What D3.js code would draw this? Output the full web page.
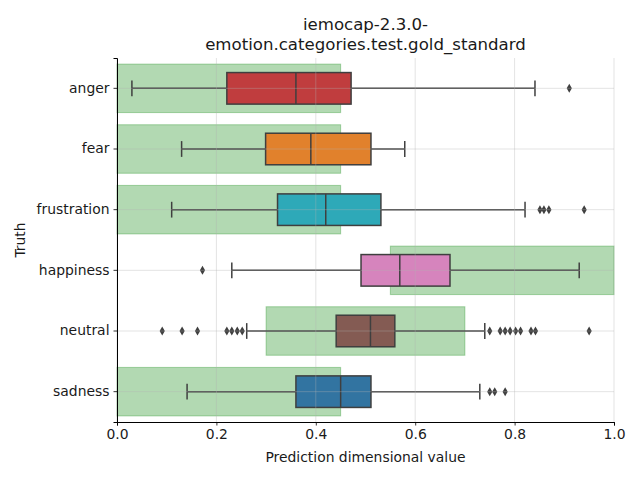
<!DOCTYPE html>
<html>
<head>
<meta charset="UTF-8">
<style>
	body { margin: 0; background: white; font-family: "DejaVu Sans", sans-serif; }
</style>
</head>
<body>
<div id="chart"></div>
<script src="https://d3js.org/d3.v7.min.js"></script>
<script>

	// Data
	let categories = ["anger", "fear", "frustration", "happiness", "neutral", "sadness"];
	let colors = ["#c03d3e", "#e1812c", "#2ea9b8", "#d684bd", "#845b53", "#3274a1"];

	// [whisker low, q1, median, q3, whisker high]
	let stats = [
		[0.030, 0.221, 0.360, 0.471, 0.841],
		[0.130, 0.299, 0.390, 0.511, 0.579],
		[0.110, 0.323, 0.420, 0.531, 0.821],
		[0.231, 0.491, 0.569, 0.670, 0.930],
		[0.261, 0.441, 0.510, 0.559, 0.740],
		[0.141, 0.360, 0.450, 0.511, 0.730]
	];

	let outliers = [
		[0.910],
		[],
		[0.851, 0.859, 0.869, 0.940],
		[0.172],
		[0.091, 0.131, 0.162, 0.221, 0.231, 0.242, 0.252,
		 0.750, 0.771, 0.781, 0.791, 0.802, 0.812, 0.833, 0.842, 0.950],
		[0.750, 0.760, 0.781]
	];

	// gold standard ranges shown as green bands
	let goldRanges = [
		[0, 0.45], [0, 0.45], [0, 0.45], [0.55, 1.0], [0.3, 0.7], [0, 0.45]
	];

	let xTicks = [0, 0.2, 0.4, 0.6, 0.8, 1.0];

	let width = 640, height = 480;
	let margin = {top: 58, right: 26, bottom: 58, left: 117};
	let textColor = "#1a1a1a";

	let svg = d3.select("#chart").append("svg")
		.attr("width", width)
		.attr("height", height);

	let x = d3.scaleLinear().domain([0, 1]).range([margin.left, width - margin.right]);
	let y = d3.scaleBand().domain(categories).range([margin.top, height - margin.bottom]);
	let bw = y.bandwidth();
	let lineColor = "#3f3f3f";

	// green bands
	svg.append("g").selectAll("rect")
		.data(goldRanges)
		.enter()
		.append("rect")
		.attr("x", d => x(d[0]))
		.attr("width", d => x(d[1]) - x(d[0]))
		.attr("y", (d, i) => y(categories[i]) + bw * 0.1)
		.attr("height", bw * 0.8)
		.attr("fill", "green")
		.attr("fill-opacity", 0.3)
		.attr("stroke", "green")
		.attr("stroke-opacity", 0.3)
		.attr("stroke-width", 1);

	// boxes
	let boxH = bw * 0.52;
	let capH = bw * 0.26;
	let boxes = svg.append("g").selectAll("g")
		.data(stats)
		.enter()
		.append("g")
		.attr("transform", (d, i) => "translate(0," + (y(categories[i]) + bw / 2) + ")");

	boxes.append("line")
		.attr("x1", d => x(d[0])).attr("x2", d => x(d[1]))
		.attr("stroke", lineColor).attr("stroke-width", 1.5);
	boxes.append("line")
		.attr("x1", d => x(d[3])).attr("x2", d => x(d[4]))
		.attr("stroke", lineColor).attr("stroke-width", 1.5);
	boxes.append("line")
		.attr("x1", d => x(d[0])).attr("x2", d => x(d[0]))
		.attr("y1", -capH / 2).attr("y2", capH / 2)
		.attr("stroke", lineColor).attr("stroke-width", 1.5);
	boxes.append("line")
		.attr("x1", d => x(d[4])).attr("x2", d => x(d[4]))
		.attr("y1", -capH / 2).attr("y2", capH / 2)
		.attr("stroke", lineColor).attr("stroke-width", 1.5);
	boxes.append("rect")
		.attr("x", d => x(d[1]))
		.attr("width", d => x(d[3]) - x(d[1]))
		.attr("y", -boxH / 2)
		.attr("height", boxH)
		.attr("fill", (d, i) => colors[i])
		.attr("stroke", lineColor).attr("stroke-width", 1.5);
	boxes.append("line")
		.attr("x1", d => x(d[2])).attr("x2", d => x(d[2]))
		.attr("y1", -boxH / 2).attr("y2", boxH / 2)
		.attr("stroke", lineColor).attr("stroke-width", 1.5);

	// outliers (diamonds)
	let diamond = "M0,-4.5L2.6,0L0,4.5L-2.6,0Z";
	outliers.forEach((arr, i) => {
		svg.append("g").selectAll("path")
			.data(arr)
			.enter()
			.append("path")
			.attr("d", diamond)
			.attr("transform", d => "translate(" + x(d) + "," + (y(categories[i]) + bw / 2) + ")")
			.attr("fill", lineColor);
	});

	// grid on top
	let grid = svg.append("g")
		.attr("stroke", "#b0b0b0")
		.attr("stroke-opacity", 0.45)
		.attr("stroke-width", 0.8);
	grid.selectAll("line.vx")
		.data(xTicks)
		.enter()
		.append("line")
		.attr("x1", d => x(d)).attr("x2", d => x(d))
		.attr("y1", margin.top).attr("y2", height - margin.bottom);
	grid.selectAll("line.hy")
		.data(categories)
		.enter()
		.append("line")
		.attr("x1", margin.left).attr("x2", width - margin.right)
		.attr("y1", d => y(d) + bw / 2).attr("y2", d => y(d) + bw / 2);

	// axes
	let xAxis = svg.append("g")
		.attr("transform", "translate(0," + (height - margin.bottom) + ")")
		.call(d3.axisBottom(x).tickValues(xTicks).tickFormat(d3.format(".1f")).tickSizeOuter(0).tickSize(3.5).tickPadding(4));
	let yAxis = svg.append("g")
		.attr("transform", "translate(" + margin.left + ",0)")
		.call(d3.axisLeft(y).tickSizeOuter(0).tickSize(3.5).tickPadding(4));
	[xAxis, yAxis].forEach(a => {
		a.select(".domain").attr("stroke", "black").attr("stroke-width", 1);
		a.selectAll(".tick line").attr("stroke", "black").attr("stroke-width", 0.8);
		a.selectAll("text")
			.style("font-family", "DejaVu Sans")
			.style("font-size", "13.9px")
			.attr("fill", textColor);
	});

	svg.append("text")
		.attr("x", (x(0) + x(1)) / 2)
		.attr("y", 462)
		.attr("text-anchor", "middle")
		.style("font-size", "13.9px")
		.attr("fill", textColor)
		.text("Prediction dimensional value");

	svg.append("text")
		.attr("transform", "translate(25," + ((margin.top + height - margin.bottom) / 2) + ") rotate(-90)")
		.attr("text-anchor", "middle")
		.style("font-size", "13.9px")
		.attr("fill", textColor)
		.text("Truth");

	let title = svg.append("text")
		.attr("text-anchor", "middle")
		.style("font-size", "16.6px")
		.attr("fill", textColor);
	title.append("tspan").attr("x", (x(0) + x(1)) / 2).attr("y", 30).text("iemocap-2.3.0-");
	title.append("tspan").attr("x", (x(0) + x(1)) / 2).attr("y", 50).text("emotion.categories.test.gold_standard");

</script>
</body>
</html>
